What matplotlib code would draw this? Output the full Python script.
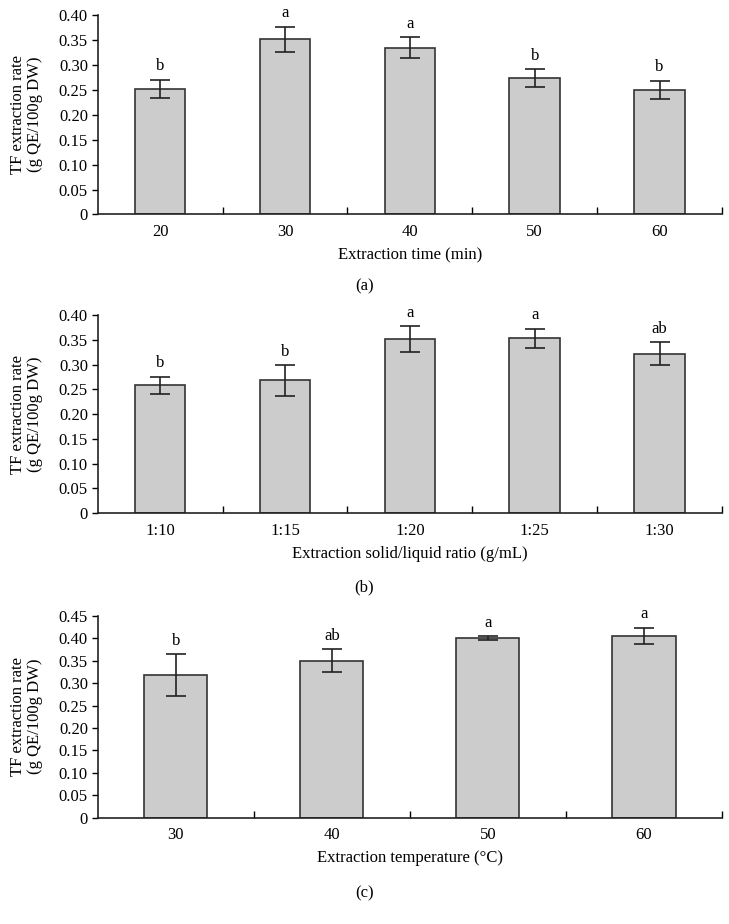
import numpy as np
import matplotlib
matplotlib.use("Agg")
import matplotlib.pyplot as plt
from matplotlib.ticker import FixedLocator, FuncFormatter

plt.rcParams['font.family'] = ['Liberation Serif', 'DejaVu Serif']
plt.rcParams['font.size'] = 12

# Panel (a): extraction time
time_labels = ['20', '30', '40', '50', '60']
time_means = [0.252, 0.351, 0.334, 0.273, 0.250]
time_errs = [0.018, 0.025, 0.021, 0.018, 0.018]
time_letters = ['b', 'a', 'a', 'b', 'b']

# Panel (b): solid/liquid ratio
ratio_labels = ['1:10', '1:15', '1:20', '1:25', '1:30']
ratio_means = [0.258, 0.268, 0.351, 0.353, 0.322]
ratio_errs = [0.017, 0.031, 0.026, 0.019, 0.023]
ratio_letters = ['b', 'b', 'a', 'a', 'ab']

# Panel (c): temperature
temp_labels = ['30', '40', '50', '60']
temp_means = [0.318, 0.350, 0.400, 0.405]
temp_errs = [0.046, 0.025, 0.004, 0.018]
temp_letters = ['b', 'ab', 'a', 'a']

ylabel = 'TF extraction rate\n(g QE/100g DW)'


def fmt(v, pos):
    return '0' if abs(v) < 1e-9 else f'{v:.2f}'


def draw_panel(ax, labels, means, errs, letters, ymax, xlabel):
    x = np.arange(len(labels))
    ax.bar(x, means, width=0.405, color='#cccccc', edgecolor='#333333',
           linewidth=1.2, zorder=2)
    ax.errorbar(x, means, yerr=errs, fmt='none', ecolor='#222222',
                elinewidth=1.2, capsize=7, capthick=1.2, zorder=3)
    for xi, m, e, let in zip(x, means, errs, letters):
        ax.annotate(let, (xi, m + e), xytext=(0, 4), textcoords='offset points',
                    ha='center', va='bottom', fontsize=12)
    ax.set_xlim(-0.5, len(labels) - 0.5)
    ax.set_ylim(0, ymax)
    ax.set_yticks(np.arange(0, ymax + 0.001, 0.05))
    ax.yaxis.set_major_formatter(FuncFormatter(fmt))
    ax.set_xticks(x)
    ax.set_xticklabels(labels)
    ax.xaxis.set_minor_locator(FixedLocator(np.arange(0.5, len(labels), 1.0)))
    ax.tick_params(axis='x', which='major', length=0, pad=7)
    ax.tick_params(axis='x', which='minor', direction='in', length=5, width=1)
    ax.tick_params(axis='y', direction='out', length=4, width=1, pad=3)
    for s in ['top', 'right']:
        ax.spines[s].set_visible(False)
    for s in ['left', 'bottom']:
        ax.spines[s].set_linewidth(1.2)
        ax.spines[s].set_color('#222222')
    ax.set_xlabel(xlabel, labelpad=5)
    ax.set_ylabel(ylabel, va='center', linespacing=1.05)
    ax.yaxis.set_label_coords(-0.114, 0.5)


fig = plt.figure(figsize=(7.29, 9.24), dpi=100)

ax_a = fig.add_axes([0.134, 0.7679, 0.8564, 0.2159])
draw_panel(ax_a, time_labels, time_means, time_errs, time_letters, 0.40,
           'Extraction time (min)')
fig.text(0.5, 0.6905, '(a)', ha='center', va='center', fontsize=12)

ax_b = fig.add_axes([0.134, 0.4445, 0.8564, 0.2146])
draw_panel(ax_b, ratio_labels, ratio_means, ratio_errs, ratio_letters, 0.40,
           'Extraction solid/liquid ratio (g/mL)')
fig.text(0.5, 0.3647, '(b)', ha='center', va='center', fontsize=12)

ax_c = fig.add_axes([0.134, 0.1150, 0.8564, 0.2186])
draw_panel(ax_c, temp_labels, temp_means, temp_errs, temp_letters, 0.45,
           'Extraction temperature (°C)')
fig.text(0.5, 0.0335, '(c)', ha='center', va='center', fontsize=12)

fig.savefig('out.png', dpi=100)
